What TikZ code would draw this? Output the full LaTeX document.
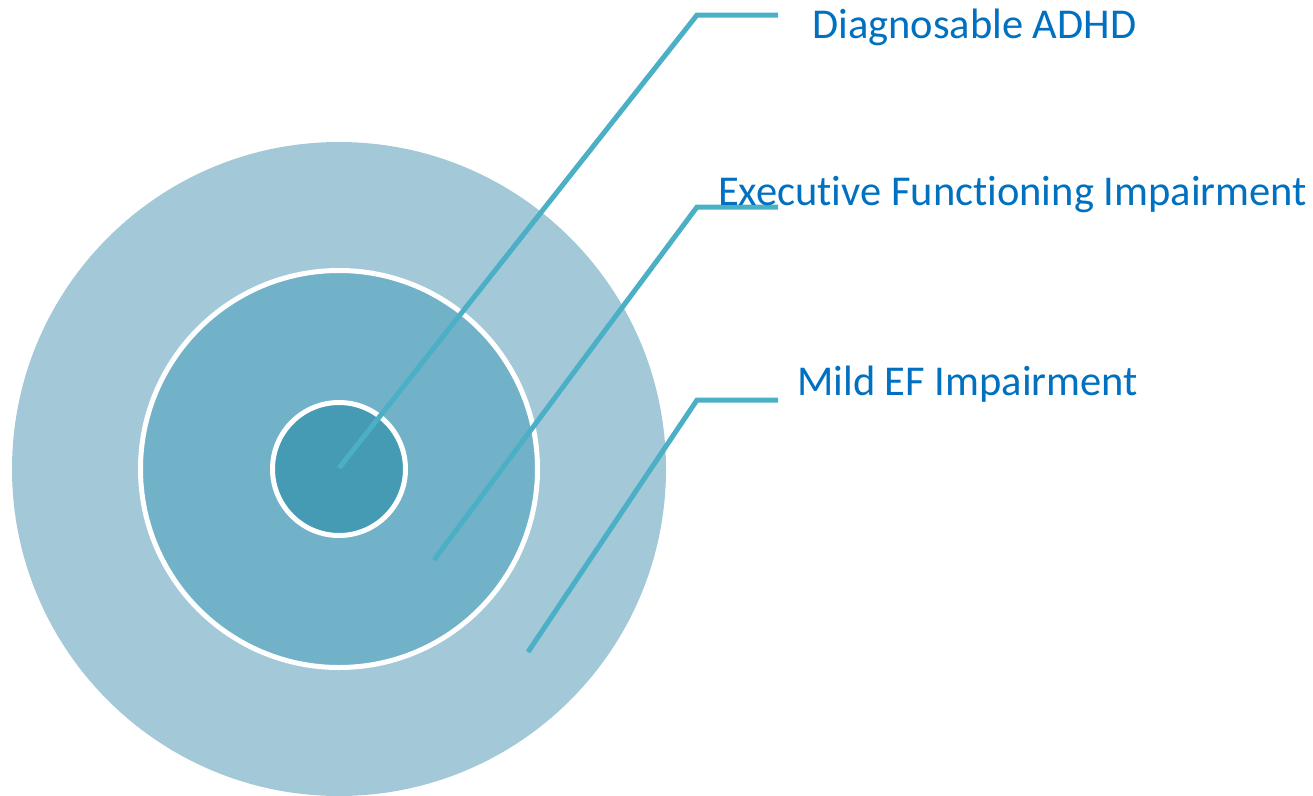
\documentclass[tikz,border=0pt]{standalone}
\usepackage{fontspec}
\setmainfont{Carlito}[Ligatures={NoCommon}]

\definecolor{ringouter}{HTML}{A3C9D9}
\definecolor{ringmid}{HTML}{72B2C9}
\definecolor{ringinner}{HTML}{449BB3}
\definecolor{leader}{HTML}{4BAFC6}
\definecolor{labelblue}{HTML}{0070C0}

\begin{document}
\begin{tikzpicture}[x=1pt,y=-1pt,
    ring/.style={circle,draw=white,line width=5pt,inner sep=0pt},
    leaderline/.style={draw=leader,line width=5pt},
    callout/.style={text=labelblue,font=\fontsize{42.5}{50}\selectfont,anchor=base west,inner sep=0pt}]

    % Frame
    \useasboundingbox (0,0) rectangle (1313,795);

    % Rings
    \node[ring,draw=none,fill=ringouter,minimum size=654pt] (outer) at (339,469) {};
    \node[ring,fill=ringmid,minimum size=397pt] (middle) at (339,469) {};
    \node[ring,fill=ringinner,minimum size=133pt] (inner) at (339,469) {};

    % Leader lines and labels
    \foreach \n/\sx/\sy/\ky/\by/\tx/\label in {
        adhd/339/468/15/38/812/{Diagnosable ADHD},
        efi/434/560/207/205/718/{Executive Functioning Impairment},
        mild/528/652/400/395/797/{Mild EF Impairment}
    }
    {
        \coordinate (\n-start) at (\sx,\sy);
        \coordinate (\n-knee) at (697,\ky);
        \coordinate (\n-end) at (778,\ky);
        \draw[leaderline] (\n-start) -- (\n-knee) -- (\n-end);
        \node[callout] (\n) at (\tx,\by) {\label};
    }

\end{tikzpicture}
\end{document}
